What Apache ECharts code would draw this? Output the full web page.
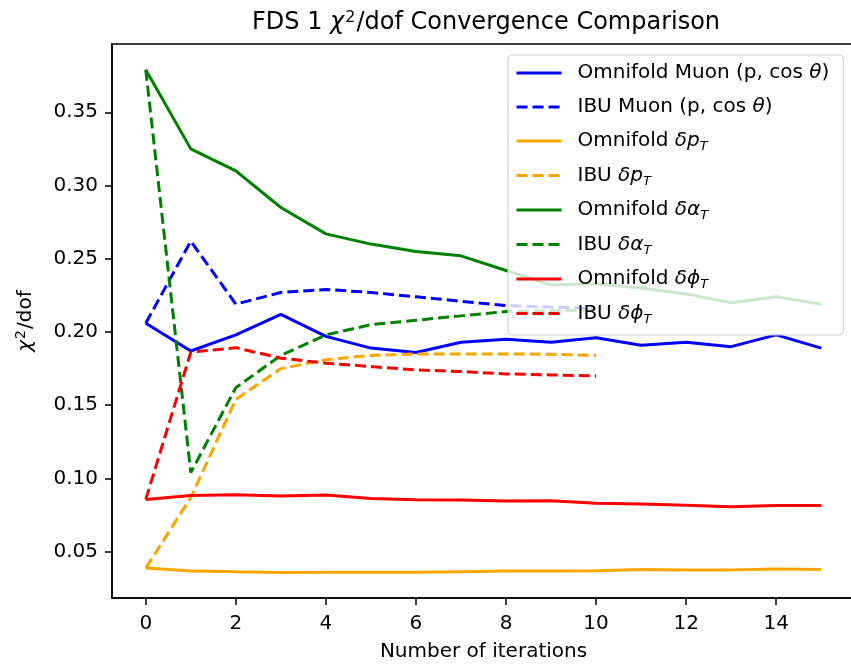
<!DOCTYPE html>
<html>
<head>
<meta charset="utf-8">
<script src="https://cdn.jsdelivr.net/npm/echarts@6/dist/echarts.min.js"></script>
<style>
html,body{margin:0;padding:0;background:#fff;}
#chart{width:851px;height:664px;}
</style>
</head>
<body>
<div id="chart"></div>
<script>
// ---- data ----
const iterOmni = [0,1,2,3,4,5,6,7,8,9,10,11,12,13,14,15];
const iterIBU = [0,1,2,3,4,5,6,7,8,9,10];
const xTicks = [0,2,4,6,8,10,12,14];
const yTicks = [0.05,0.10,0.15,0.20,0.25,0.30,0.35];

const omniMuon  = [0.206,0.187,0.198,0.212,0.197,0.189,0.186,0.193,0.195,0.193,0.196,0.191,0.193,0.190,0.198,0.189];
const ibuMuon   = [0.206,0.262,0.219,0.227,0.229,0.227,0.224,0.221,0.218,0.217,0.216];
const omniPt    = [0.0388,0.0369,0.0363,0.0358,0.0359,0.0360,0.0360,0.0364,0.0368,0.0369,0.0370,0.0378,0.0376,0.0376,0.0382,0.0378];
const ibuPt     = [0.0388,0.087,0.154,0.175,0.181,0.184,0.185,0.185,0.185,0.1848,0.184];
const omniAlpha = [0.379,0.325,0.310,0.285,0.267,0.260,0.255,0.252,0.242,0.232,0.233,0.230,0.226,0.220,0.224,0.219];
const ibuAlpha  = [0.379,0.104,0.162,0.184,0.198,0.205,0.208,0.211,0.214,0.2145,0.215];
const omniPhi   = [0.0857,0.0884,0.0889,0.0880,0.0887,0.0864,0.0855,0.0853,0.0846,0.0848,0.0830,0.0825,0.0818,0.0807,0.0816,0.0816];
const ibuPhi    = [0.0857,0.1862,0.1893,0.1821,0.1787,0.1764,0.1741,0.1730,0.1714,0.1707,0.1700];

const seriesNames = [
  'Omnifold Muon (p, cos θ)', 'IBU Muon (p, cos θ)',
  'Omnifold δpT', 'IBU δpT',
  'Omnifold δαT', 'IBU δαT',
  'Omnifold δφT', 'IBU δφT'
];
const richLabels = {
  'Omnifold Muon (p, cos θ)': '{n|Omnifold Muon (p, cos }{i|θ}{n|)}',
  'IBU Muon (p, cos θ)': '{n|IBU Muon (p, cos }{i|θ}{n|)}',
  'Omnifold δpT': '{n|Omnifold }{i|δp}{s|T}',
  'IBU δpT': '{n|IBU }{i|δp}{s|T}',
  'Omnifold δαT': '{n|Omnifold }{i|δα}{s|T}',
  'IBU δαT': '{n|IBU }{i|δα}{s|T}',
  'Omnifold δφT': '{n|Omnifold }{i|δϕ}{s|T}',
  'IBU δφT': '{n|IBU }{i|δϕ}{s|T}'
};

const FONT = 'DejaVu Sans';
const DASH = [11, 5];

function pairs(xs, ys) { return xs.map((x, i) => [x, ys[i]]); }

function mk(name, xs, ys, color, dashed) {
  return {
    name: name, type: 'line', data: pairs(xs, ys),
    symbol: 'none', showSymbol: false, smooth: false,
    lineStyle: { color: color, width: 3, type: dashed ? DASH : 'solid' },
    itemStyle: { color: color },
    emphasis: { disabled: true },
    animation: false
  };
}

const chart = echarts.init(document.getElementById('chart'), null, { renderer: 'canvas' });
chart.setOption({
  animation: false,
  backgroundColor: '#ffffff',
  title: {
    text: '{t|FDS 1 }{ti|χ}{ts|2}{t|/dof Convergence Comparison}',
    left: 252, top: 11, padding: 0,
    textStyle: {
      fontFamily: FONT, fontSize: 24, fontWeight: 'normal', color: '#000', lineHeight: 24,
      rich: {
        t: { fontFamily: FONT, fontSize: 24, color: '#000' },
        ti: { fontFamily: FONT, fontSize: 24, fontStyle: 'italic', color: '#000' },
        ts: { fontFamily: FONT, fontSize: 16, color: '#000', padding: [0, 1, 10, 1] }
      }
    }
  },
  legend: {
    orient: 'vertical', left: 508, top: 55,
    data: seriesNames,
    itemWidth: 45, itemHeight: 14, itemGap: 10,
    padding: [6, 14, 9, 7],
    backgroundColor: 'rgba(255,255,255,0.8)',
    borderColor: '#cccccc', borderWidth: 1, borderRadius: 4,
    lineStyle: { width: 3 },
    itemStyle: { opacity: 0, borderWidth: 0 },
    selectedMode: false,
    formatter: function (name) { return richLabels[name] || name; },
    textStyle: {
      fontFamily: FONT, fontSize: 20, color: '#000', lineHeight: 24,
      padding: [0, 0, 0, 11],
      rich: {
        n: { fontFamily: FONT, fontSize: 20, color: '#000' },
        i: { fontFamily: FONT, fontSize: 20, fontStyle: 'italic', color: '#000' },
        s: { fontFamily: FONT, fontSize: 13, fontStyle: 'italic', color: '#000', padding: [12, 0, 0, 0] }
      }
    }
  },
  grid: {
    left: 112, top: 44, width: 743, height: 554,
    show: true, borderColor: '#000', borderWidth: 1.5, backgroundColor: 'transparent',
    containLabel: false, outerBoundsMode: 'none'
  },
  xAxis: {
    type: 'value', min: -0.75, max: 15.75,
    name: 'Number of iterations', nameLocation: 'middle', nameGap: 44,
    nameTextStyle: { fontFamily: FONT, fontSize: 20, color: '#000' },
    axisLine: { show: true, onZero: false, lineStyle: { color: '#000', width: 1.5 } },
    axisTick: { show: true, length: 7, lineStyle: { color: '#000', width: 1.5 }, customValues: xTicks },
    axisLabel: { margin: 16, fontFamily: FONT, fontSize: 20, color: '#000', customValues: xTicks,
                 formatter: function (v) { return String(v); } },
    splitLine: { show: false }
  },
  yAxis: {
    type: 'value', min: 0.0184, max: 0.3966,
    name: '{ni|χ}{ns|2}{n|/dof}', nameLocation: 'middle', nameGap: 74,
    nameTextStyle: {
      fontFamily: FONT, fontSize: 20, color: '#000', lineHeight: 24,
      rich: {
        n: { fontFamily: FONT, fontSize: 20, color: '#000' },
        ni: { fontFamily: FONT, fontSize: 20, fontStyle: 'italic', color: '#000' },
        ns: { fontFamily: FONT, fontSize: 14, color: '#000', padding: [0, 1, 9, 1] }
      }
    },
    axisLine: { show: true, onZero: false, lineStyle: { color: '#000', width: 1.5 } },
    axisTick: { show: true, length: 7, lineStyle: { color: '#000', width: 1.5 }, customValues: yTicks },
    axisLabel: { margin: 14, fontFamily: FONT, fontSize: 20, color: '#000', customValues: yTicks,
                 formatter: function (v) { return v.toFixed(2); } },
    splitLine: { show: false }
  },
  series: [
    mk(seriesNames[0], iterOmni, omniMuon, '#0000ff', false),
    mk(seriesNames[1], iterIBU, ibuMuon, '#0000ff', true),
    mk(seriesNames[2], iterOmni, omniPt, '#ffa500', false),
    mk(seriesNames[3], iterIBU, ibuPt, '#ffa500', true),
    mk(seriesNames[4], iterOmni, omniAlpha, '#008000', false),
    mk(seriesNames[5], iterIBU, ibuAlpha, '#008000', true),
    mk(seriesNames[6], iterOmni, omniPhi, '#ff0000', false),
    mk(seriesNames[7], iterIBU, ibuPhi, '#ff0000', true)
  ]
});
</script>
</body>
</html>
